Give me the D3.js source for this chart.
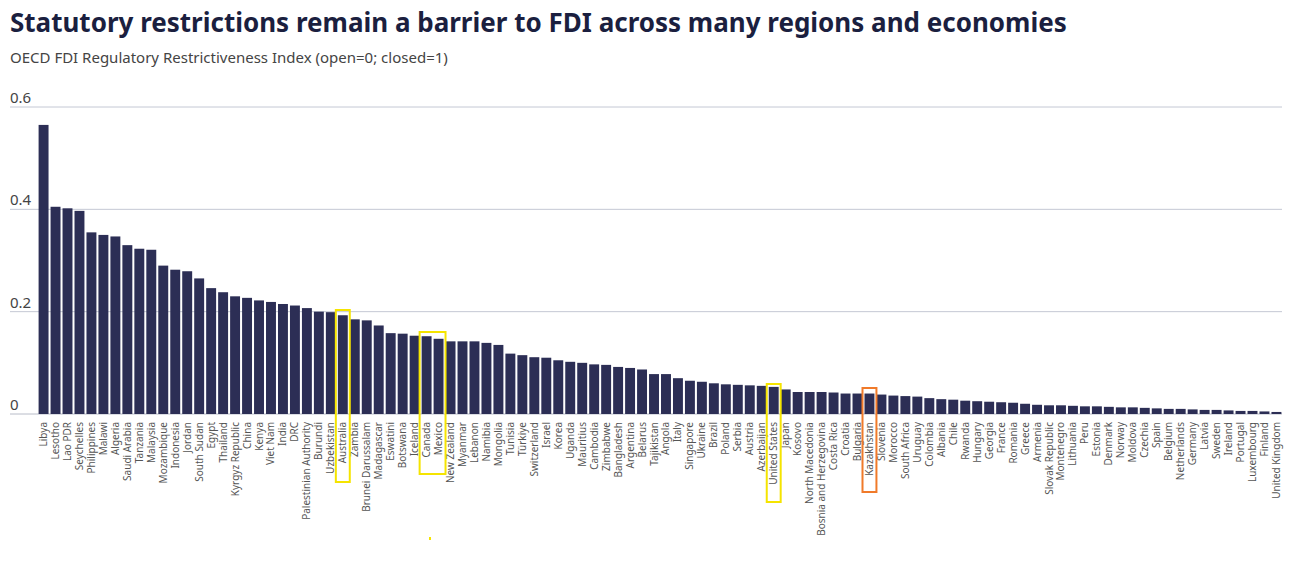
<!DOCTYPE html>
<html><head><meta charset="utf-8">
<script src="https://cdn.jsdelivr.net/npm/d3@7"></script>
<style>
body{margin:0;background:#fff;font-family:"Noto Sans",sans-serif;}
</style></head><body>
<svg id="chart" width="1300" height="564"></svg>
<script>
const countries = ["Libya","Lesotho","Lao PDR","Seychelles","Philippines","Malawi","Algeria","Saudi Arabia","Tanzania","Malaysia","Mozambique","Indonesia","Jordan","South Sudan","Egypt","Thailand","Kyrgyz Republic","China","Kenya","Viet Nam","India","DRC","Palestinian Authority","Burundi","Uzbekistan","Australia","Zambia","Brunei Darussalam","Madagascar","Eswatini","Botswana","Iceland","Canada","Mexico","New Zealand","Myanmar","Lebanon","Namibia","Mongolia","Tunisia","Türkiye","Switzerland","Israel","Korea","Uganda","Mauritius","Cambodia","Zimbabwe","Bangladesh","Argentina","Belarus","Tajikistan","Angola","Italy","Singapore","Ukraine","Brazil","Poland","Serbia","Austria","Azerbaijan","United States","Japan","Kosovo","North Macedonia","Bosnia and Herzegovina","Costa Rica","Croatia","Bulgaria","Kazakhstan","Slovenia","Morocco","South Africa","Uruguay","Colombia","Albania","Chile","Rwanda","Hungary","Georgia","France","Romania","Greece","Armenia","Slovak Republic","Montenegro","Lithuania","Peru","Estonia","Denmark","Norway","Moldova","Czechia","Spain","Belgium","Netherlands","Germany","Latvia","Sweden","Ireland","Portugal","Luxembourg","Finland","United Kingdom"];
const values = [0.565,0.405,0.402,0.397,0.355,0.350,0.347,0.330,0.323,0.321,0.290,0.282,0.279,0.265,0.246,0.238,0.230,0.227,0.222,0.219,0.215,0.212,0.207,0.200,0.199,0.193,0.185,0.183,0.173,0.158,0.157,0.153,0.152,0.147,0.142,0.142,0.142,0.139,0.135,0.118,0.115,0.111,0.110,0.105,0.102,0.100,0.097,0.096,0.092,0.090,0.087,0.078,0.078,0.070,0.065,0.063,0.060,0.058,0.057,0.056,0.055,0.053,0.048,0.043,0.043,0.043,0.042,0.040,0.040,0.040,0.038,0.036,0.035,0.034,0.031,0.029,0.028,0.026,0.025,0.024,0.023,0.022,0.020,0.018,0.017,0.017,0.016,0.015,0.015,0.014,0.013,0.013,0.012,0.011,0.010,0.010,0.009,0.008,0.008,0.007,0.006,0.006,0.005,0.004];
const yTicks = [0, 0.2, 0.4, 0.6];
// highlighted groups: [first, last, colour, top y, bottom y]
const highlights = [
  ["Australia","Australia","#f5e400",310,482],
  ["Canada","Mexico","#f5e400",332,474],
  ["United States","United States","#f5e400",384,502],
  ["Kazakhstan","Kazakhstan","#f07a2a",388,492]
];

const svg = d3.select("#chart");
const plotLeft = 10, plotRight = 1282, plotTop = 107, plotBottom = 414;

svg.append("text").attr("x",10).attr("y",32)
  .attr("font-size",26).attr("font-weight",700).attr("fill","#1b1f3f")
  .text("Statutory restrictions remain a barrier to FDI across many regions and economies");
svg.append("text").attr("x",10).attr("y",63)
  .attr("font-size",15).attr("fill","#444")
  .text("OECD FDI Regulatory Restrictiveness Index (open=0; closed=1)");

const x = d3.scaleBand().domain(countries).range([38, 1282]).paddingInner(0.17).paddingOuter(0.05);
const y = d3.scaleLinear().domain([0, 0.6]).range([plotBottom, plotTop]);

const grid = svg.append("g");
yTicks.forEach(t => {
  grid.append("line").attr("x1",plotLeft).attr("x2",plotRight)
    .attr("y1",y(t)).attr("y2",y(t))
    .attr("stroke", t === 0 ? "#b8bcc8" : "#c4c8d4").attr("stroke-width",1);
  grid.append("text").attr("x",10).attr("y",y(t)-4)
    .attr("font-size",15).attr("fill","#444").text(t === 0 ? "0" : t.toFixed(1));
});

svg.append("g").selectAll("rect").data(countries).join("rect")
  .attr("x", d => x(d)).attr("width", x.bandwidth())
  .attr("y", (d,i) => y(values[i])).attr("height", (d,i) => y(0) - y(values[i]))
  .attr("fill", "#2c2e55");

svg.append("g").selectAll("text").data(countries).join("text")
  .attr("transform", d => `translate(${x(d) + x.bandwidth()/2 + 3.5},${plotBottom + 8}) rotate(-90)`)
  .attr("text-anchor","end").attr("font-size",10).attr("fill","#555")
  .text(d => d);

highlights.forEach(([a,b,c,t,bt]) => {
  const x0 = x(a) - 2, x1 = x(b) + x.bandwidth() + 2;
  svg.append("rect").attr("x",x0).attr("y",t).attr("width",x1-x0).attr("height",bt-t)
    .attr("fill","none").attr("stroke",c).attr("stroke-width",2);
});
svg.append("rect").attr("x",429).attr("y",537).attr("width",2).attr("height",3).attr("fill","#f5e400");
</script>
</body></html>
